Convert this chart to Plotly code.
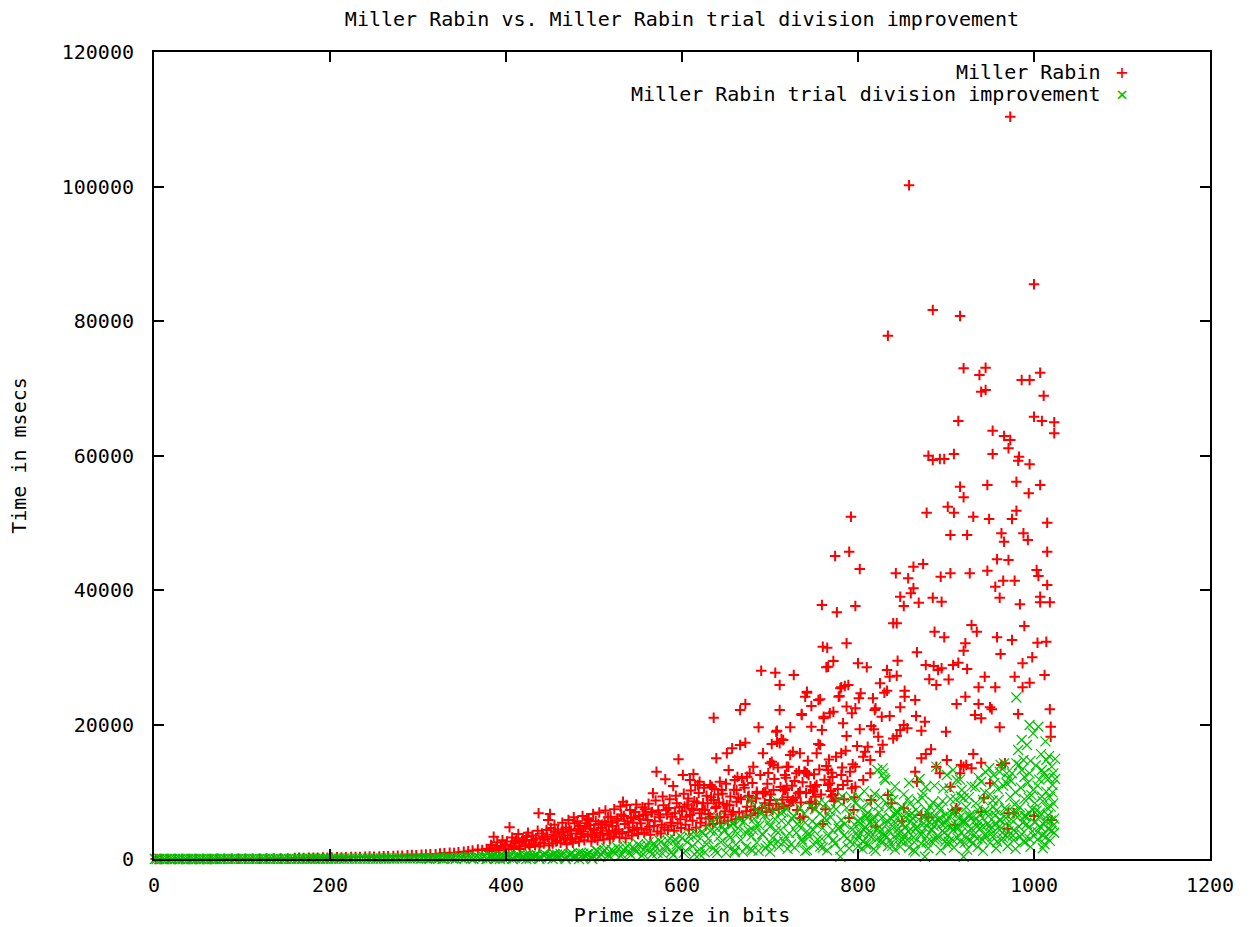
import plotly.graph_objects as go

# ---- data (prime size in bits, time in msecs) ----
miller_rabin = [
    (2, 2), (8, 3), (16, 5), (24, 6), (32, 8), (40, 10), (48, 12), (56, 15), (64, 18), (72, 20),
    (80, 25), (88, 30), (96, 34), (104, 40), (112, 45), (120, 52), (128, 60), (136, 68), (144, 78),
    (152, 90), (160, 150), (165, 180), (170, 160), (176, 190), (181, 170), (186, 200), (192, 210),
    (197, 190), (202, 230), (208, 250), (213, 240), (218, 270), (224, 300), (229, 280), (234, 310),
    (240, 330), (245, 360), (250, 340), (256, 380), (261, 420), (266, 400), (272, 460), (277, 490),
    (282, 470), (288, 540), (293, 580), (298, 560), (304, 640), (309, 680), (314, 720), (320, 700),
    (325, 800), (330, 860), (336, 920), (341, 880), (346, 1000), (352, 1080), (357, 1150),
    (362, 1250), (368, 1400), (373, 1350), (378, 1500), (384, 1700), (386, 3320), (389, 1650),
    (394, 1900), (399, 2100), (404, 4710), (406, 2000),
    (410, 2300), (412, 3060), (415, 1900), (418, 2500), (421, 2800), (423, 3320), (426, 2200),
    (429, 2700), (431, 2830), (434, 3100), (437, 6800), (439, 2400), (442, 3400), (444, 2900),
    (446, 4310), (448, 5800), (450, 6690), (452, 3000), (454, 3600), (456, 4060), (458, 2700),
    (461, 3300), (463, 3900), (465, 4060), (467, 2900), (470, 3500), (472, 4400), (475, 3100),
    (478, 5300), (480, 3800), (482, 4500), (485, 3300), (488, 4100), (490, 4800), (492, 6050),
    (494, 5800), (495, 5060), (498, 3600), (500, 4300), (503, 3900), (505, 5200), (508, 4600),
    (510, 3800), (512, 5500), (514, 5060), (517, 4200), (519, 6300), (521, 4900), (524, 3900),
    (526, 5700), (528, 4400), (531, 6600), (533, 8520), (535, 5200), (537, 8030), (540, 4700),
    (542, 6100), (544, 5400), (547, 7000), (549, 4600), (551, 6400), (553, 5300), (556, 6540),
    (558, 7400), (561, 5800), (563, 4800), (565, 6900), (567, 9770), (569, 5600), (571, 12980),
    (573, 7200), (575, 6200), (577, 5100), (579, 8000), (581, 11850), (583, 6600), (585, 7600),
    (587, 5400), (590, 10860), (592, 6800), (594, 8300), (596, 14820), (598, 5900), (600, 7100),
    (601, 12490), (603, 7800), (605, 6300), (607, 9000), (609, 11750), (609, 6540), (611, 7500),
    (613, 12640), (613, 7290), (615, 11000), (617, 8400), (618, 11000), (620, 11490), (620, 6800),
    (622, 6050), (624, 8280), (626, 7300), (628, 9400), (630, 6700), (632, 11000), (632, 6290),
    (634, 10750), (636, 21010), (636, 8770), (638, 7600), (639, 14970), (639, 7780), (641, 9600),
    (643, 11490), (643, 6290), (645, 10260), (647, 8200), (649, 7100), (651, 15720), (651, 8030),
    (653, 13240), (655, 9300), (657, 16460), (658, 7040), (660, 11750), (662, 10260), (662, 8520),
    (664, 9100), (666, 16950), (666, 22160), (668, 12000), (670, 11000), (672, 17290), (672, 23050),
    (674, 12240), (674, 7780), (675, 9260), (677, 12740), (679, 8600), (681, 13730), (683, 7400),
    (685, 10010), (685, 9770), (687, 19580), (690, 28000), (692, 15720), (692, 9770), (694, 8300),
    (695, 10010), (697, 11200), (700, 14230), (700, 8770),
    (702, 14470), (702, 17100), (704, 13980), (704, 10260), (706, 27700), (707, 18930), (708, 19080),
    (708, 17440), (711, 25870), (711, 22160), (711, 17200), (713, 17800), (715, 17700), (715, 10260),
    (716, 7780), (717, 12490), (717, 10260), (719, 13730), (719, 10510), (721, 13730), (723, 19580),
    (723, 15460), (724, 8500), (726, 15960), (726, 8770), (727, 27360), (728, 11600), (730, 12740),
    (731, 7290), (732, 9770), (734, 15720), (734, 10010), (734, 6050), (736, 21560), (736, 21410),
    (738, 6290), (739, 12980), (740, 24140), (740, 12980), (742, 24730), (742, 24880), (742, 12740),
    (744, 12490), (745, 8300), (747, 22750), (747, 19670), (747, 8520), (749, 10010), (749, 10260),
    (751, 10750), (751, 9260), (753, 15720), (753, 11000), (755, 23640), (755, 17100), (757, 23750),
    (757, 16950), (759, 19180), (759, 37770), (760, 31570), (761, 20920), (761, 21160), (764, 13830),
    (764, 28510), (765, 31410), (766, 28600), (766, 11000), (766, 13240), (768, 21670), (768, 11260),
    (770, 12830), (770, 9260), (772, 29440), (772, 21900), (772, 9520), (774, 45060), (774, 9030),
    (776, 36680), (778, 24140), (779, 24240), (780, 25380), (781, 25530), (781, 15720), (781, 12490),
    (783, 20180), (783, 11000), (785, 25730), (787, 32070), (787, 22660), (787, 18290), (789, 25870),
    (790, 45700), (791, 12980), (792, 50900), (793, 21670), (793, 10510), (795, 7290), (797, 37620),
    (797, 22410), (797, 13710), (797, 10750), (800, 29100),
    (801, 23890), (802, 43120), (802, 19290), (803, 24640), (806, 15210), (806, 11750), (808, 15960),
    (810, 28510), (811, 16700), (814, 14720), (814, 12740), (815, 19780), (815, 8770), (817, 23890),
    (818, 19290), (819, 22160), (820, 22410), (823, 18190), (825, 26130), (825, 15960), (827, 21160),
    (828, 17000), (830, 24730), (833, 28110), (833, 25030), (834, 77820), (834, 9520), (836, 27110),
    (836, 21260), (838, 8280), (840, 35050), (840, 17920), (843, 42480), (844, 35050), (844, 27260),
    (844, 18290), (845, 29490), (848, 39000), (848, 22560), (848, 19180), (852, 37620), (852, 19930),
    (852, 7540), (853, 25030), (853, 24140), (856, 19430), (857, 41740), (858, 100180), (860, 39500),
    (863, 43470), (863, 40250), (865, 23650), (865, 12980), (866, 21260), (867, 30740), (867, 11490),
    (869, 38110), (872, 19080), (872, 14970), (872, 6540), (874, 43870), (876, 20420), (877, 28850),
    (877, 15610), (878, 51490), (880, 59970), (881, 26720), (883, 16310), (885, 59330), (885, 81640),
    (885, 38860), (886, 28700), (887, 33800), (889, 25870), (889, 13730), (891, 28110), (893, 59480),
    (893, 12740), (894, 41980), (895, 28350), (895, 38260), (898, 59480), (898, 32970), (900, 18930),
    (901, 14720), (902, 52390), (903, 26710), (905, 42480), (905, 48180), (905, 10750), (908, 28850),
    (909, 60220), (909, 51490), (911, 7290), (912, 23050), (912, 7540), (914, 65130), (914, 29200),
    (916, 55360), (916, 80740), (916, 12740), (917, 13980), (920, 53780), (920, 72970), (920, 30980),
    (920, 13730), (922, 32070), (922, 24140), (923, 13980), (924, 48180), (924, 28250), (927, 42480),
    (929, 34800), (929, 13480), (931, 50900), (931, 15610), (933, 21410), (935, 33800), (937, 25530),
    (937, 23050), (938, 71970), (940, 69490), (940, 20920), (940, 14320), (943, 9030), (944, 27110),
    (945, 73060), (945, 69740), (947, 55610), (947, 42870), (949, 50560), (950, 22560), (950, 11260),
    (952, 22260), (953, 63690), (953, 60220), (956, 40490), (956, 25530), (958, 44570), (958, 32970),
    (961, 38860), (961, 19590), (962, 30490), (963, 48430), (963, 13980), (965, 41380), (966, 47190),
    (966, 62900), (967, 14220), (971, 44460), (971, 61070), (971, 6800), (973, 110380), (973, 62300),
    (975, 50560), (975, 32570), (977, 6800), (978, 41380), (978, 27110), (980, 56100), (980, 51800),
    (982, 59230), (982, 21560), (983, 59820), (984, 37870), (986, 71230), (987, 29100), (987, 25530),
    (988, 48430), (989, 34650), (993, 47440), (994, 54380), (995, 71230), (995, 58690), (995, 26220),
    (998, 29990), (1000, 85460), (1000, 65770), (1003, 42980), (1004, 32160), (1005, 42080),
    (1007, 72310), (1007, 55610), (1007, 39010), (1007, 38170), (1009, 65130), (1011, 68890),
    (1012, 27360), (1014, 32300), (1015, 50010), (1015, 40740), (1015, 45700), (1018, 38170),
    (1018, 22260), (1019, 19670), (1019, 18190), (1023, 64940), (1023, 63300),
    (760, 5200), (790, 6100), (820, 4800), (850, 5600), (880, 6200), (910, 5100), (940, 7000),
    (970, 4500), (1000, 6400), (1020, 5800),
    # denser lower cloud, 380-800 bits
    (381, 1200), (383, 2100), (387, 1400), (390, 2500), (392, 1300), (396, 2800), (398, 1600),
    (401, 2600), (403, 1500), (407, 3200), (409, 1800), (411, 2700), (414, 3700), (416, 1500),
    (419, 3000), (422, 2000), (425, 3900), (427, 1800), (430, 3500), (433, 2100), (436, 4200),
    (438, 1900), (441, 3800), (443, 2300), (447, 3300), (449, 2000),
    (451, 4600), (453, 2300), (455, 5100), (457, 2600), (459, 4400), (462, 2400), (464, 5400),
    (466, 3100), (468, 4700), (469, 2200), (471, 5800), (473, 2900), (474, 4200), (476, 2400),
    (477, 6200), (479, 3000), (481, 5600), (483, 2600), (484, 4900), (486, 3700), (487, 6400),
    (489, 2800), (491, 5300), (493, 3400), (496, 4500), (497, 2600), (499, 6700), (501, 3200),
    (502, 5600), (504, 2800), (506, 6900), (507, 3500), (509, 5100), (511, 2900), (513, 7200),
    (515, 3600), (516, 6200), (518, 3000), (520, 5400), (522, 3300), (523, 7400), (525, 4100),
    (527, 6000), (529, 3200), (530, 7800), (532, 3800), (534, 6400), (536, 3100), (538, 5600),
    (539, 4000), (541, 7300), (543, 3500), (545, 6200), (546, 4300), (548, 8100), (550, 3700),
    (552, 5900), (554, 4500), (555, 7700), (557, 3900), (559, 6600),
    (560, 4400), (562, 8200), (564, 3600), (566, 7000), (568, 4900), (570, 8700), (572, 4100),
    (574, 6600), (576, 3800), (578, 9300), (580, 4700), (582, 7300), (584, 4300), (586, 8900),
    (588, 5000), (589, 6300), (591, 4200), (593, 9400), (595, 5300), (597, 7700), (599, 4600),
    (602, 9700), (604, 5100), (606, 8100), (608, 4400), (610, 10200), (612, 5700), (614, 8600),
    (616, 4700), (619, 9800), (621, 5400), (623, 7400), (625, 10600), (627, 5000), (629, 8300),
    (631, 6000), (633, 9200), (635, 5200), (637, 10400), (640, 6100), (642, 8400), (644, 5300),
    (646, 9700), (648, 6200), (650, 11200), (652, 5700), (654, 8000), (656, 6600), (659, 10300),
    (661, 5900), (663, 12200), (665, 6900), (667, 8900), (669, 6200), (671, 10600), (673, 7100),
    (676, 9400), (678, 6500), (680, 11300), (682, 7300), (684, 9000), (686, 6800), (689, 12500),
    (691, 7600), (693, 9900), (696, 7000), (698, 12800), (699, 8000), (701, 9600), (703, 7300),
    (705, 11900), (707, 8200), (709, 13600), (710, 7500), (712, 10700), (714, 8800), (718, 12100),
    (720, 9200), (722, 8000), (725, 10900), (729, 9100), (733, 13100), (735, 8400), (737, 11400),
    (741, 9800), (743, 14600), (746, 10800), (748, 7600), (750, 12600), (752, 8200), (756, 13300),
    (758, 9600), (762, 11800), (763, 7400), (767, 14800), (769, 10100), (771, 12200), (773, 8600),
    (775, 15200), (777, 10400), (782, 13600), (784, 8900), (786, 16100), (788, 11600), (794, 14100),
    (796, 9200), (799, 16800),
]

trial_division = [
    (1, 0), (6, 0), (12, 1), (18, 1), (24, 1), (30, 2), (36, 2), (42, 3), (48, 3), (54, 4),
    (60, 4), (66, 5), (72, 6), (78, 6), (84, 7), (90, 8), (96, 9), (102, 10), (108, 11),
    (114, 12), (120, 14), (126, 15), (132, 16), (138, 18), (144, 20), (150, 22), (156, 24),
    (162, 26), (168, 28), (174, 30), (180, 32), (186, 34), (192, 37), (198, 40), (204, 42),
    (210, 45), (216, 48), (222, 51), (228, 54), (234, 57), (240, 60), (246, 64), (252, 67),
    (258, 71), (264, 75), (270, 79), (276, 83), (282, 88), (288, 92), (294, 97), (300, 102),
    (3, 0), (9, 0), (15, 1), (21, 1), (27, 2), (33, 2), (39, 2), (45, 3), (51, 3), (57, 4),
    (63, 5), (69, 5), (75, 6), (81, 7), (87, 8), (93, 8), (99, 9), (105, 11), (111, 12),
    (117, 13), (123, 14), (129, 16), (135, 17), (141, 19), (147, 21), (153, 23), (159, 25),
    (165, 27), (171, 29), (177, 31), (183, 33), (189, 36), (195, 38), (201, 41), (207, 44),
    (213, 46), (219, 50), (225, 53), (231, 56), (237, 59), (243, 62), (249, 66), (255, 69),
    (261, 73), (267, 77), (273, 81), (279, 86), (285, 90), (291, 95), (297, 100),
    (303, 60), (308, 140), (313, 40), (318, 170), (323, 90), (328, 0), (333, 210), (338, 120),
    (343, 0), (348, 240), (353, 110), (358, 270), (363, 0), (368, 300), (373, 160), (378, 0),
    (383, 340), (388, 190), (393, 0), (398, 400), (403, 220), (408, 0), (413, 460), (418, 280),
    (423, 0), (428, 520), (433, 330), (438, 0), (443, 580), (448, 400), (453, 0), (458, 650),
    (463, 450), (468, 0), (473, 720), (478, 500), (483, 0), (488, 800), (493, 560), (498, 0),
    (305, 120), (310, 60), (315, 150), (320, 80), (325, 180), (330, 100), (335, 200), (340, 50),
    (345, 230), (350, 130), (355, 260), (360, 70), (365, 290), (370, 160), (375, 320), (380, 100),
    (385, 360), (390, 200), (395, 400), (400, 140), (405, 440), (410, 250), (415, 490), (420, 180),
    (425, 540), (430, 300), (435, 590), (440, 220), (445, 640), (450, 350), (455, 700), (460, 270),
    (465, 760), (470, 400), (475, 820), (480, 320), (485, 880), (490, 460), (495, 950), (500, 380),
    (504, 1180), (508, 700), (512, 1300), (516, 560), (520, 1400), (524, 800), (528, 1500),
    (532, 650), (536, 1650), (540, 900), (544, 1800), (548, 1050), (552, 1900), (556, 700),
    (560, 2100), (564, 1200), (568, 2300), (572, 900), (576, 2500), (580, 1400), (584, 2700),
    (588, 1000), (592, 2900), (596, 1600), (600, 3100), (604, 1200), (608, 3300), (612, 1900),
    (616, 3600), (620, 1400), (624, 3900), (628, 2200), (632, 4200), (636, 1700), (640, 4500),
    (644, 2500), (648, 4300), (652, 1900), (633, 5600), (641, 6200), (655, 5000), (678, 8700),
    (684, 7300), (693, 7800), (708, 8600), (712, 6900),
    (620, 700), (640, 900), (660, 1000), (680, 1300), (700, 1100), (720, 1500), (740, 1200),
    (760, 1700), (780, 1400), (800, 1900),
    (655, 3200), (658, 5200), (661, 2100), (664, 4600), (667, 2800), (670, 5600), (673, 1800),
    (676, 4200), (679, 3400), (682, 6000), (685, 2400), (688, 5000), (691, 3700), (694, 6500),
    (697, 2000), (700, 4800), (703, 3100), (706, 5900), (709, 2600), (712, 4300), (715, 7000),
    (718, 3300), (721, 5300), (724, 2200), (727, 6400), (730, 3900), (733, 4900), (736, 2900),
    (739, 6700), (742, 1340), (742, 4100), (745, 3320), (748, 5600), (749, 4310), (751, 7400),
    (754, 2900), (757, 6790), (757, 1830), (760, 4600), (763, 8200), (764, 5800), (766, 3400),
    (769, 6200), (772, 2830), (775, 7400), (778, 4500), (779, 4800), (780, 340), (782, 9300),
    (785, 5200), (788, 3100), (791, 2570), (791, 6600), (794, 4400), (797, 8300), (798, 3820),
    (800, 5700),
    (802, 5300), (804, 7600), (806, 2600), (808, 4700), (810, 6050), (812, 8200), (814, 5550),
    (815, 3300), (817, 5800), (819, 9700), (821, 4300), (822, 13230), (824, 6900), (825, 4060),
    (827, 2400), (828, 13480), (829, 12740), (830, 12000), (831, 11750), (832, 5100), (833, 3320),
    (835, 7600), (836, 4100), (838, 9770), (840, 8770), (841, 5600), (843, 3000), (845, 6800),
    (846, 4500), (848, 1830), (850, 7700), (851, 5200), (853, 3600), (855, 6790), (856, 2830),
    (857, 8900), (859, 8280), (860, 4400), (862, 6100), (864, 2500), (866, 7300), (867, 4800),
    (869, 5900), (871, 3800), (873, 9100), (874, 9770), (876, 340), (876, 4600), (878, 3320),
    (879, 7100), (881, 5500), (883, 2700), (885, 8400), (886, 4900), (888, 6300), (889, 13730),
    (890, 3400), (892, 7900), (893, 7290), (895, 5200), (897, 10500), (898, 3900), (900, 6600),
    (901, 5800), (901, 12490), (903, 2600), (905, 8900), (906, 4700), (908, 13240), (908, 4310),
    (910, 7400), (912, 11750), (913, 3100), (915, 6100), (917, 9300), (918, 10260), (919, 5400),
    (920, 340), (920, 9030), (921, 2400), (923, 7700), (925, 4060), (927, 6500), (929, 10800),
    (931, 6290), (932, 3600), (934, 8300), (935, 4800), (937, 12100), (938, 5600), (940, 11490),
    (941, 2900), (943, 7100), (944, 9900), (946, 3320), (948, 6400), (949, 13500), (951, 4400),
    (953, 8700), (954, 12490), (954, 7780), (956, 5300), (958, 2570), (959, 10400), (961, 12980),
    (961, 5800), (962, 14000), (964, 3900), (966, 14220), (967, 7600), (969, 12740), (969, 11260),
    (971, 12000), (972, 5000), (973, 9200), (975, 12740), (976, 3500), (977, 4310), (978, 8100),
    (980, 24020), (980, 14220), (981, 6200), (982, 16210), (983, 13980), (984, 3320), (985, 10600),
    (986, 17700), (986, 13240), (987, 5400), (988, 14720), (989, 8900), (990, 2500), (992, 16950),
    (993, 11300), (994, 4700), (995, 19930), (995, 12740), (995, 6790), (997, 9500), (999, 18690),
    (999, 10260), (1000, 3400), (1002, 13900), (1003, 7200), (1005, 19670), (1006, 11800),
    (1007, 4800), (1008, 15600), (1009, 13240), (1010, 8600), (1011, 12740), (1012, 2200),
    (1013, 17500), (1014, 14720), (1014, 10010), (1014, 3320), (1016, 6500), (1017, 12000),
    (1018, 9200), (1020, 13730), (1020, 4200), (1021, 11000), (1022, 12740), (1022, 8280),
    (1023, 6000), (1024, 14900),
    (805, 1500), (812, 2100), (820, 1200), (826, 2800), (834, 1900), (842, 1400), (849, 2600),
    (858, 1700), (865, 1100), (872, 2300), (880, 1600), (887, 2900), (894, 1300), (902, 2100),
    (909, 1700), (916, 2600), (924, 1400), (930, 2300), (936, 1800), (942, 1200), (950, 2400),
    (957, 1600), (963, 2800), (970, 1900), (979, 1500), (988, 2600), (996, 1800), (1004, 2900),
    (1010, 1600), (1018, 2700),
    (378, 60), (382, 300), (387, 30), (392, 340), (397, 90), (402, 460), (407, 60), (412, 400),
    (417, 120), (422, 560), (427, 50), (432, 450), (437, 160), (442, 640), (447, 100), (452, 520),
    (457, 200), (462, 760), (467, 130), (472, 620), (477, 240), (482, 860), (487, 180), (492, 700),
    (497, 300), (502, 1300), (506, 300), (510, 1000), (514, 1600), (518, 400), (522, 1150),
    (526, 1800), (530, 500), (534, 1300), (538, 2000), (542, 600), (546, 1450), (550, 2200),
    (554, 500), (558, 1600), (562, 2500), (566, 700), (570, 1800), (574, 2800), (578, 800),
    (582, 2000), (586, 3100), (590, 600), (594, 2200), (598, 3400), (602, 900), (606, 2500),
    (610, 3700), (614, 700), (618, 2700), (622, 4000), (626, 1000), (630, 3000), (634, 4400),
    (638, 1200), (642, 3300), (646, 4800), (650, 900), (653, 3500), (657, 5300), (660, 1300),
    (663, 3800), (666, 5800), (669, 1100), (672, 4000), (675, 6200), (678, 1500), (681, 4300),
    (684, 5000), (687, 1200), (690, 6700), (692, 3600), (695, 1600), (698, 5400), (701, 2300),
    (704, 7100), (707, 4200), (710, 1800), (713, 5700), (716, 2600), (719, 7400), (722, 3800),
    (725, 6000), (728, 1700), (731, 5200), (734, 7600), (737, 2500), (740, 5400), (743, 3600),
    (746, 7900), (750, 2100), (753, 5100), (756, 8400), (759, 3000), (762, 6100), (765, 1300),
    (768, 7200), (771, 4300), (774, 2300), (777, 8700), (781, 5800), (784, 3500), (787, 7600),
    (790, 1600), (793, 9100), (796, 5100), (799, 2800),
    (801, 9200), (803, 3800), (807, 10100), (809, 2200), (811, 6900), (813, 4200), (816, 8800),
    (818, 1500), (823, 7900), (826, 9200), (829, 3700), (832, 8300), (837, 6100), (839, 2000),
    (842, 10800), (844, 7200), (847, 3900), (852, 9600), (854, 4700), (858, 11300), (861, 6800),
    (863, 1300), (868, 8600), (870, 11900), (875, 6200), (877, 10700), (882, 7800), (884, 4300),
    (887, 10900), (891, 5900), (896, 8600), (899, 2600), (904, 10500), (907, 6800), (911, 8900),
    (914, 4600), (916, 11800), (922, 5300), (926, 9200), (928, 2800), (933, 10700), (936, 7300),
    (939, 4600), (942, 8800), (945, 12900), (947, 5200), (950, 9600), (952, 3800), (955, 11300),
    (957, 7200), (960, 8800), (963, 4600), (965, 10900), (968, 6100), (970, 3300), (974, 11600),
    (976, 7000), (979, 9900), (984, 7700), (989, 12200), (991, 6400), (994, 9100), (996, 14600),
    (998, 4100), (1001, 8300), (1004, 10900), (1006, 6300), (1009, 9300), (1011, 5100),
    (1013, 12100), (1015, 7600), (1017, 15300), (1019, 5700), (1021, 9900), (1023, 3900),
    (1024, 11900),
    (800, 3300), (803, 5900), (806, 4400), (809, 6500), (812, 3600), (815, 5100), (818, 6300),
    (821, 2900), (824, 4800), (827, 6100), (830, 3500), (833, 5700), (836, 2700), (839, 4900),
    (842, 6600), (845, 3700), (848, 5400), (851, 2900), (854, 6200), (857, 4100), (860, 5600),
    (863, 3200), (866, 4500), (869, 6900), (872, 3600), (875, 5300), (878, 2500), (881, 6400),
    (884, 4400), (887, 5600), (890, 3000), (893, 6000), (896, 4200), (899, 5300), (902, 3500),
    (905, 6300), (908, 2800), (911, 5000), (914, 6900), (917, 3900), (920, 5800), (923, 3100),
    (926, 6300), (929, 4500), (932, 5600), (935, 3000), (938, 6600), (941, 4900), (944, 3600),
    (947, 7000), (950, 5000), (953, 3300), (956, 6500), (959, 4600), (962, 5800), (965, 3100),
    (968, 7300), (971, 4100), (974, 5900), (977, 2800), (980, 6900), (983, 4800), (986, 3700),
    (989, 6400), (992, 5200), (995, 3000), (998, 7400), (1001, 5400), (1004, 4000), (1007, 6900),
    (1010, 3500), (1013, 5700), (1016, 4500), (1019, 7800), (1022, 5000),
]

x_ticks = [0, 200, 400, 600, 800, 1000, 1200]
y_ticks = [0, 20000, 40000, 60000, 80000, 100000, 120000]

title_text = "Miller Rabin vs. Miller Rabin trial division improvement"
series_names = ["Miller Rabin", "Miller Rabin trial division improvement"]
x_title = "Prime size in bits"
y_title = "Time in msecs"

RED = "#ff0000"
GREEN = "#00c000"
FONT = "DejaVu Sans Mono"
FS = 20

mr_x, mr_y = zip(*miller_rabin)
td_x, td_y = zip(*trial_division)

fig = go.Figure()
fig.add_trace(go.Scatter(
    x=list(mr_x), y=list(mr_y), mode="markers", name=series_names[0],
    marker=dict(symbol="cross-thin", size=7.5, line=dict(color=RED, width=2)),
    cliponaxis=False, showlegend=False,
))
fig.add_trace(go.Scatter(
    x=list(td_x), y=list(td_y), mode="markers", name=series_names[1],
    marker=dict(symbol="x-thin", size=10, line=dict(color=GREEN, width=1.2)),
    cliponaxis=False, showlegend=False,
))

axis_common = dict(
    showline=True, linecolor="black", linewidth=2, mirror="ticks",
    ticks="inside", ticklen=10, tickwidth=1.5, tickcolor="black",
    showgrid=False, zeroline=False, tickformat="d",
    tickfont=dict(family=FONT, size=FS, color="black"),
)

fig.update_layout(
    width=1258, height=927,
    margin=dict(l=154, r=48, t=52, b=68),
    paper_bgcolor="white", plot_bgcolor="white",
    font=dict(family=FONT, size=FS, color="black"),
    title=dict(text=title_text, x=0.5, xref="paper", y=1 - 19 / 927, yref="container",
               xanchor="center", yanchor="middle", font=dict(family=FONT, size=FS, color="black")),
    xaxis=dict(range=[0, 1200], tickvals=x_ticks, ticklabelstandoff=7,
               title=dict(text=x_title, standoff=14, font=dict(family=FONT, size=FS, color="black")),
               automargin=False, **axis_common),
    yaxis=dict(range=[0, 120000], tickvals=y_ticks, ticklabelstandoff=14,
               title=dict(text=y_title, standoff=30, font=dict(family=FONT, size=FS, color="black")),
               automargin=False, **axis_common),
)

# gnuplot-style key: right-aligned text followed by the point symbol
key_rows = [(series_names[0], "+", RED, 72), (series_names[1], "\u00d7", GREEN, 94)]
for label, sym, col, py in key_rows:
    yp = (859 - py) / 807
    fig.add_annotation(text=label, xref="paper", yref="paper", x=(1103 - 154) / 1056, y=yp,
                       xanchor="right", yanchor="middle", showarrow=False,
                       font=dict(family=FONT, size=FS, color="black"))
    fig.add_annotation(text=sym, xref="paper", yref="paper", x=(1122 - 154) / 1056, y=yp,
                       xanchor="center", yanchor="middle", showarrow=False,
                       font=dict(family=FONT, size=FS, color=col))

fig.write_html("out.html")
